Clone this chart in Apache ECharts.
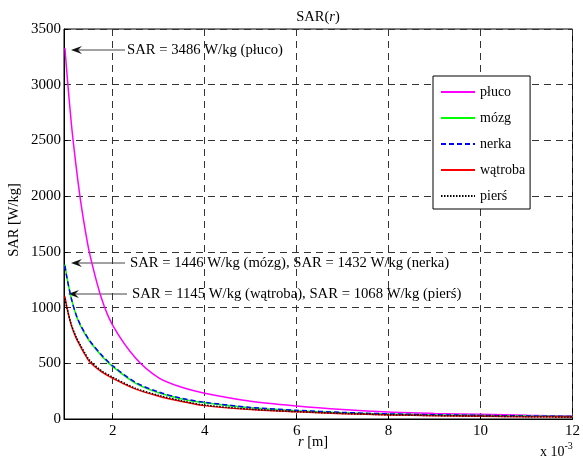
<!DOCTYPE html>
<html lang="pl">
<head>
  <meta charset="UTF-8">
  <title>SAR(r)</title>
  <script src="https://cdn.jsdelivr.net/npm/echarts@6/dist/echarts.min.js"></script>
  <style>
    body { margin: 0; background: #fff; }
    #chart { width: 583px; height: 459px; }
  </style>
</head>
<body>
  <div id="chart"></div>
  <script>
    // r [m] x 10^-3
    var rValues = [0.96, 1.0, 1.1, 1.2, 1.3, 1.4, 1.5, 1.75, 2, 2.5, 3, 3.5, 4, 5, 6, 7, 8, 9, 10, 11, 12];
    // SAR [W/kg]
    var pluco   = [3330, 3120, 2650, 2280, 1960, 1700, 1480, 1090, 840, 545, 370, 285, 232, 160, 117, 85, 62, 50, 42, 33, 27];
    var mozg    = [1385, 1280, 1080, 935, 835, 760, 695, 570, 470, 320, 235, 180, 145, 100, 75, 57, 45, 37, 31, 26, 22];
    var nerka   = [1375, 1275, 1080, 940, 842, 768, 703, 578, 478, 328, 242, 186, 150, 104, 78, 59, 46, 38, 32, 27, 22];
    var watroba = [1100, 1010, 840, 730, 650, 575, 512, 425, 365, 268, 205, 158, 120, 85, 64, 48, 37, 30, 25, 21, 18];
    var piers   = [1080, 1000, 845, 740, 660, 588, 526, 435, 375, 275, 212, 163, 125, 88, 66, 50, 38, 31, 26, 21, 18];
    var xTicks = [2, 4, 6, 8, 10, 12];

    function pairs(ys) {
      return rValues.map(function (r, i) { return [r, ys[i]]; });
    }

    var font = 'Liberation Serif';
    var gridLine = { show: true, lineStyle: { color: '#333', type: [7, 5], width: 1 } };

    function line(name, ys, color, type) {
      return {
        name: name,
        type: 'line',
        data: pairs(ys),
        symbol: 'none',
        smooth: 0.3,
        lineStyle: { color: color, width: 1.5, type: type },
        itemStyle: { color: color },
        emphasis: { disabled: true }
      };
    }

    function arrow(x1, x2, y) {
      return [
        { type: 'line', shape: { x1: x1 + 6, y1: y, x2: x2, y2: y }, style: { stroke: '#444', lineWidth: 1 } },
        { type: 'polygon', shape: { points: [[x1, y], [x1 + 11, y - 4], [x1 + 7, y], [x1 + 11, y + 4]] }, style: { fill: '#111' } }
      ];
    }

    function label(x, y, txt) {
      return { type: 'text', x: x, y: y, style: { text: txt, font: '14.7px ' + font, fill: '#000', verticalAlign: 'middle' } };
    }

    var chart = echarts.init(document.getElementById('chart'));
    var option = {
      animation: false,
      grid: { left: 64, right: 8, top: 29, bottom: 40, show: true, borderColor: '#000', borderWidth: 1 },
      xAxis: {
        type: 'value',
        min: 0.94,
        max: 12,
        axisLine: { show: true, lineStyle: { color: '#000' } },
        axisTick: { inside: true, length: 4, customValues: xTicks, lineStyle: { color: '#000' } },
        axisLabel: { customValues: xTicks, color: '#000', fontFamily: font, fontSize: 15, margin: 5 },
        splitLine: gridLine
      },
      yAxis: {
        type: 'value',
        min: 0,
        max: 3500,
        interval: 500,
        axisLine: { show: true, lineStyle: { color: '#000' } },
        axisTick: { show: true, inside: true, length: 4, lineStyle: { color: '#000' } },
        axisLabel: { color: '#000', fontFamily: font, fontSize: 15, margin: 3, formatter: function (v) { return String(v); } },
        splitLine: gridLine
      },
      legend: {
        orient: 'vertical',
        left: 433,
        top: 76,
        padding: [9, 5, 6, 7],
        itemWidth: 34,
        itemHeight: 14,
        itemGap: 12,
        backgroundColor: '#fff',
        borderColor: '#000',
        borderWidth: 1,
        borderRadius: 0,
        itemStyle: { opacity: 0 },
        textStyle: { fontFamily: font, fontSize: 14, color: '#000' },
        data: ['płuco', 'mózg', 'nerka', 'wątroba', 'pierś']
      },
      series: [
        line('płuco', pluco, '#ff00ff', 'solid'),
        line('mózg', mozg, '#00ff00', 'solid'),
        line('nerka', nerka, '#0000ff', [5, 3]),
        line('wątroba', watroba, '#ff0000', 'solid'),
        line('pierś', piers, '#000', [1.5, 1.5])
      ],
      graphic: [].concat(
        arrow(71, 125, 50),
        arrow(71, 125, 263),
        arrow(68, 127, 294),
        [
          label(127, 50, 'SAR = 3486 W/kg (płuco)'),
          label(130, 263, 'SAR = 1446 W/kg (mózg), SAR = 1432 W/kg (nerka)'),
          label(132, 294, 'SAR = 1145 W/kg (wątroba), SAR = 1068 W/kg (pierś)'),
          {
            type: 'text', x: 318, y: 17,
            style: {
              text: '{a|SAR(}{i|r}{a|)}', align: 'center', verticalAlign: 'middle',
              rich: { a: { font: '14.5px ' + font, fill: '#000' }, i: { font: 'italic 14.5px ' + font, fill: '#000' } }
            }
          },
          {
            type: 'text', x: 313, y: 442,
            style: {
              text: '{i|r}{a| [m]}', align: 'center', verticalAlign: 'middle',
              rich: { a: { font: '14.5px ' + font, fill: '#000' }, i: { font: 'italic 14.5px ' + font, fill: '#000' } }
            }
          },
          {
            type: 'text', x: 14, y: 220, rotation: Math.PI / 2,
            style: { text: 'SAR [W/kg]', font: '14.5px ' + font, fill: '#000', align: 'center', verticalAlign: 'middle' }
          },
          {
            type: 'text', x: 540, y: 452,
            style: {
              text: '{a|x 10}{s|-3}', verticalAlign: 'middle',
              rich: { a: { font: '14px ' + font, fill: '#000' }, s: { font: '10px ' + font, fill: '#000', verticalAlign: 'top', padding: [0, 0, 12, 0] } }
            }
          }
        ]
      )
    };
    chart.setOption(option);
  </script>
</body>
</html>
